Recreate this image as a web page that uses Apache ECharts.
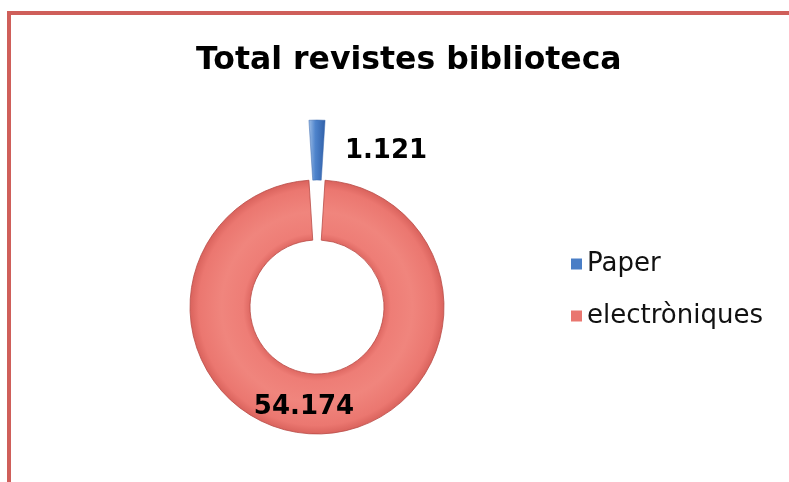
<!DOCTYPE html>
<html>
<head>
<meta charset="utf-8">
<script src="https://cdn.jsdelivr.net/npm/echarts@6/dist/echarts.min.js"></script>
<style>
    html, body { margin: 0; padding: 0; background: #fff; }
    #main { width: 789px; height: 482px; position: relative; }
    #frame {
        position: absolute; left: 7px; top: 11px; width: 800px; height: 500px;
        border-top: 4px solid #cf5f5a; border-left: 4px solid #cf5f5a;
        pointer-events: none; z-index: 5;
    }
</style>
</head>
<body>
<div style="position:relative;width:789px;height:482px;overflow:hidden">
    <div id="main"></div>
    <div id="frame"></div>
</div>
<script>
// dades del gràfic
const categories = ['Paper', 'electròniques'];
const values = [1121, 54174];
const colors = ['#4a7ec6', '#e9766f'];

function fmt(v) {
    return String(v).replace(/\B(?=(\d{3})+(?!\d))/g, '.');
}

let total = values.reduce((a, b) => a + b, 0);
// el segment de paper centrat a dalt
let startAngle = 90 + 360 * values[0] / total / 2;

let blueFill = new echarts.graphic.LinearGradient(0, 0, 1, 0, [
    { offset: 0, color: '#9dbde6' },
    { offset: 0.4, color: '#4f84cc' },
    { offset: 1, color: '#2f5fa8' }
]);
let redFill = new echarts.graphic.RadialGradient(0.5, 0.5, 0.5, [
    { offset: 0, color: '#e9766f' },
    { offset: 0.53, color: '#e06a64' },
    { offset: 0.58, color: '#ee7d76' },
    { offset: 0.75, color: '#f0857d' },
    { offset: 0.93, color: '#eb7770' },
    { offset: 1, color: '#d9625c' }
]);
let labelOffsets = [[69, 4], [-13, 0]];

let myChart = echarts.init(document.getElementById('main'));
myChart.setOption({
    animation: false,
    title: {
        text: 'Total revistes biblioteca',
        left: 191,
        top: 40,
        textStyle: {
            fontFamily: 'DejaVu Sans',
            fontWeight: 'bold',
            fontSize: 31.5,
            color: '#000'
        }
    },
    legend: {
        orient: 'vertical',
        left: 566,
        top: 244,
        itemWidth: 11,
        itemHeight: 11,
        itemGap: 22,
        icon: 'rect',
        data: categories.map((name, i) => ({
            name: name,
            itemStyle: { color: colors[i], borderWidth: 0 }
        })),
        textStyle: {
            fontFamily: 'DejaVu Sans',
            fontSize: 26,
            lineHeight: 30,
            color: '#111'
        }
    },
    series: [
        {
            type: 'pie',
            center: [317, 307],
            radius: [67, 127],
            startAngle: startAngle,
            clockwise: true,
            selectedMode: 'single',
            selectedOffset: 60,
            emphasis: { disabled: true },
            labelLine: { show: false },
            label: {
                show: true,
                position: 'inside',
                formatter: p => fmt(p.value),
                fontFamily: 'DejaVu Sans',
                fontWeight: 'bold',
                fontSize: 26,
                color: '#000'
            },
            data: categories.map((name, i) => ({
                name: name,
                value: values[i],
                selected: i === 0,
                label: { offset: labelOffsets[i] },
                select: {
                    label: { offset: labelOffsets[i] },
                    itemStyle: { color: i === 0 ? blueFill : redFill }
                },
                itemStyle: i === 0 ? {
                    color: blueFill,
                    borderColor: '#3b69ae',
                    borderWidth: 0.5
                } : {
                    color: redFill,
                    borderColor: '#b94c47',
                    borderWidth: 0.8
                }
            }))
        }
    ]
});
</script>
</body>
</html>
